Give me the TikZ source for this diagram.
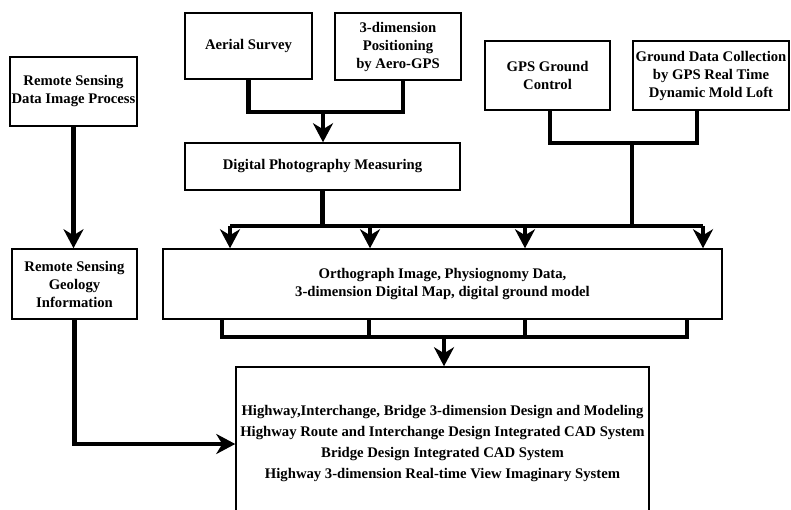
\documentclass[tikz,border=0pt]{standalone}
\usepackage{fontspec}
\setmainfont{Liberation Serif}
\usepackage{tikz}
\usetikzlibrary{arrows.meta}

\begin{document}
\begin{tikzpicture}[x=1pt,y=-1pt,
	box/.style={draw,line width=1.5pt,inner sep=0pt,align=center,
		font=\bfseries\fontsize{14.7}{18}\selectfont},
	bus/.style={line width=4.5pt},
	arr/.style={-{Stealth[length=19pt,width=20pt,inset=6pt]}}]
\useasboundingbox (0,0) rectangle (791,510);
		% boxes
		\node[box,minimum width=127pt,minimum height=69pt] (rsdip) at (73.5,91.5) {Remote Sensing\\Data Image Process};
		\node[box,minimum width=127pt,minimum height=66pt] (aerial) at (248.5,46) {Aerial Survey};
		\node[box,minimum width=126pt,minimum height=67pt] (posgps) at (398,46.5) {3-dimension\\Positioning\\by Aero-GPS};
		\node[box,minimum width=275pt,minimum height=47pt] (dpm) at (322.5,166.5) {Digital Photography Measuring};
		\node[box,minimum width=125pt,minimum height=69pt] (gpsctrl) at (547.5,75.5) {GPS Ground\\Control};
		\node[box,minimum width=156pt,minimum height=69pt] (gdc) at (711,75.5) {Ground Data Collection\\by GPS Real Time\\Dynamic Mold Loft};
		\node[box,minimum width=125pt,minimum height=70pt] (rsgi) at (74.5,284) {Remote Sensing\\Geology\\Information};
		\node[box,minimum width=559pt,minimum height=70pt] (ortho) at (442.5,284) {Orthograph Image, Physiognomy Data,\\3-dimension Digital Map, digital ground model};
		\node[box,minimum width=413pt,minimum height=154pt,
			font=\bfseries\fontsize{14.7}{21}\selectfont] (hwy) at (442.5,444) {Highway,Interchange, Bridge 3-dimension Design and Modeling\\Highway Route and Interchange Design Integrated CAD System\\Bridge Design Integrated CAD System\\Highway 3-dimension Real-time View Imaginary System};
		% junctions
		\coordinate (A1) at (248.5,112);
		\coordinate (A2) at (403,112);
		\coordinate (AM) at (323,112);
		\coordinate (G1) at (550,143);
		\coordinate (G2) at (697,143);
		\coordinate (GM) at (632,143);
		\coordinate (T1) at (230,226);
		\coordinate (T2) at (370,226);
		\coordinate (T3) at (525,226);
		\coordinate (T4) at (703,226);
		\coordinate (B1) at (222,337);
		\coordinate (B2) at (369,337);
		\coordinate (B3) at (525,337);
		\coordinate (B4) at (687,337);
		\coordinate (BM) at (444,337);
		% aerial survey group
		\draw[bus] (aerial.south) -- (A1) -- (A2) -- (posgps.south -| A2);
		\draw[bus,arr] (AM) -- (AM |- dpm.north);
		% gps group
		\draw[bus] (gpsctrl.south -| G1) -- (G1) -- (G2) -- (gdc.south -| G2);
		\draw[bus] (GM) -- (GM |- T4);
		% upper bus
		\draw[bus] (dpm.south) -- (dpm.south |- T1);
		\draw[bus] (T1) -- (T4);
		\draw[bus,arr] (T1) -- (T1 |- ortho.north);
		\draw[bus,arr] (T2) -- (T2 |- ortho.north);
		\draw[bus,arr] (T3) -- (T3 |- ortho.north);
		\draw[bus,arr] (T4) -- (T4 |- ortho.north);
		% lower bus
		\draw[bus] (ortho.south -| B1) -- (B1) -- (B4) -- (ortho.south -| B4);
		\draw[bus] (ortho.south -| B2) -- (B2);
		\draw[bus] (ortho.south -| B3) -- (B3);
		\draw[bus,arr] (BM) -- (BM |- hwy.north);
		% remote sensing
		\draw[bus,arr] (rsdip.south) -- (rsdip.south |- rsgi.north);
		\draw[bus,arr] (rsgi.south) |- (hwy.west);
\end{tikzpicture}
\end{document}
